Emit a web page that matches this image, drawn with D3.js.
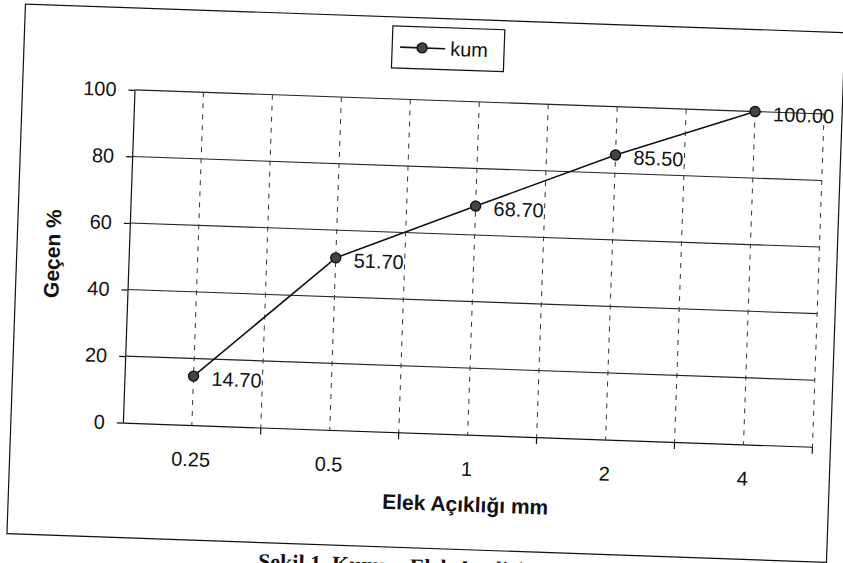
<!DOCTYPE html>
<html>
<head>
<meta charset="utf-8">
<script src="https://cdnjs.cloudflare.com/ajax/libs/d3/7.8.5/d3.min.js"></script>
<style>
  body { margin: 0; background: #fff; }
  svg { display: block; }
  text { font-family: "Liberation Sans", Arial, sans-serif; fill: #111; }
</style>
</head>
<body>
<svg></svg>
<script>
const categories = ["0.25", "0.5", "1", "2", "4"];
const values = [14.70, 51.70, 68.70, 85.50, 100.00];
const yTicks = [0, 20, 40, 60, 80, 100];
const seriesName = "kum";

let svgWidth = 843;
let svgHeight = 563;
let svg = d3.select("svg")
    .attr("width", svgWidth)
    .attr("height", svgHeight)

svg.append("rect")
    .attr("width", svgWidth)
    .attr("height", svgHeight)
    .attr("fill", "#fff")

// the scanned page is tilted by about 2 degrees
let page = svg.append("g")
    .attr("transform", "rotate(2, 421.5, 281.5)")

// outer chart frame
page.append("rect")
    .attr("x", 16)
    .attr("y", 18)
    .attr("width", 820)
    .attr("height", 530)
    .attr("fill", "none")
    .attr("stroke", "#111")
    .attr("stroke-width", 1.2)

let plot = {left: 128, right: 818, top: 100, bottom: 433}

let xScale = d3.scaleBand()
    .domain(categories)
    .range([plot.left, plot.right])
    .padding(0)

let yScale = d3.scaleLinear()
    .domain([0, 100])
    .range([plot.bottom, plot.top])

let bw = xScale.bandwidth()

// horizontal gridlines
page.append("g")
    .selectAll("line")
    .data(yTicks.filter(d => d > 0))
    .enter()
    .append("line")
    .attr("x1", plot.left)
    .attr("x2", plot.right)
    .attr("y1", d => yScale(d))
    .attr("y2", d => yScale(d))
    .attr("stroke", "#222")
    .attr("stroke-width", 1.1)

// dashed vertical gridlines at every half category
let halfSteps = []
categories.forEach(c => {
    halfSteps.push(xScale(c) + bw / 2)
    if (c !== categories[0]) halfSteps.push(xScale(c))
})
halfSteps.push(xScale.range()[1])

page.append("g")
    .selectAll("line")
    .data(halfSteps)
    .enter()
    .append("line")
    .attr("x1", d => d)
    .attr("x2", d => d)
    .attr("y1", plot.top)
    .attr("y2", plot.bottom)
    .attr("stroke", "#333")
    .attr("stroke-width", 1)
    .attr("stroke-dasharray", "5,6")

// y axis
let yAxis = d3.axisLeft(yScale)
    .tickValues(yTicks)
    .tickSize(6)
    .tickSizeOuter(0)
    .tickPadding(12)

let yAxisGroup = page.append("g")
    .attr("transform", `translate(${plot.left}, 0)`)
    .call(yAxis)
yAxisGroup.selectAll("path, line").attr("stroke", "#111").attr("stroke-width", 1.2)
yAxisGroup.selectAll("text").style("font-size", "20px").attr("fill", "#111")

// x axis
let xAxis = d3.axisBottom(xScale)
    .tickSize(0)
    .tickSizeOuter(0)
    .tickPadding(27)

let xAxisGroup = page.append("g")
    .attr("transform", `translate(0, ${plot.bottom})`)
    .call(xAxis)
xAxisGroup.select("path").attr("stroke", "#111").attr("stroke-width", 1.2)
xAxisGroup.selectAll("text").style("font-size", "20px").attr("fill", "#111")

// category boundary tick marks
let boundaries = categories.slice(1).map(c => xScale(c)).concat([xScale.range()[1]])
page.append("g")
    .selectAll("line")
    .data(boundaries)
    .enter()
    .append("line")
    .attr("x1", d => d)
    .attr("x2", d => d)
    .attr("y1", plot.bottom)
    .attr("y2", plot.bottom + 7)
    .attr("stroke", "#111")
    .attr("stroke-width", 1.2)

// series line
let line = d3.line()
    .x((d, i) => xScale(categories[i]) + bw / 2)
    .y(d => yScale(d))

page.append("path")
    .datum(values)
    .attr("d", line)
    .attr("fill", "none")
    .attr("stroke", "#111")
    .attr("stroke-width", 1.6)

page.append("g")
    .selectAll("circle")
    .data(values)
    .enter()
    .append("circle")
    .attr("cx", (d, i) => xScale(categories[i]) + bw / 2)
    .attr("cy", d => yScale(d))
    .attr("r", 5)
    .attr("fill", "#444")
    .attr("stroke", "#111")
    .attr("stroke-width", 1.4)

// data labels
page.append("g")
    .selectAll("text")
    .data(values)
    .enter()
    .append("text")
    .attr("x", (d, i) => xScale(categories[i]) + bw / 2 + 18)
    .attr("y", d => yScale(d) + 9)
    .style("font-size", "20px")
    .text(d => d.toFixed(2))

// axis titles
page.append("text")
    .attr("x", (plot.left + plot.right) / 2)
    .attr("y", 510)
    .attr("text-anchor", "middle")
    .style("font-size", "21px")
    .style("font-weight", "bold")
    .text("Elek Açıklığı mm")

page.append("text")
    .attr("transform", `translate(59, ${(plot.top + plot.bottom) / 2}) rotate(-90)`)
    .attr("text-anchor", "middle")
    .style("font-size", "21px")
    .style("font-weight", "bold")
    .text("Geçen %")

// legend
let legend = page.append("g")
    .attr("transform", "translate(384, 27)")
legend.append("rect")
    .attr("width", 112)
    .attr("height", 42)
    .attr("fill", "#fff")
    .attr("stroke", "#111")
    .attr("stroke-width", 1.2)
legend.append("line")
    .attr("x1", 8)
    .attr("x2", 53)
    .attr("y1", 21)
    .attr("y2", 21)
    .attr("stroke", "#111")
    .attr("stroke-width", 1.6)
legend.append("circle")
    .attr("cx", 30)
    .attr("cy", 21)
    .attr("r", 5)
    .attr("fill", "#444")
    .attr("stroke", "#111")
    .attr("stroke-width", 1.4)
legend.append("text")
    .attr("x", 58)
    .attr("y", 28)
    .style("font-size", "20px")
    .text(seriesName)

// figure caption, cut off by the bottom of the scan
page.append("text")
    .attr("x", 268)
    .attr("y", 574)
    .style("font-family", "'Liberation Serif', 'DejaVu Serif', serif")
    .style("font-size", "22px")
    .style("font-weight", "bold")
    .text("Şekil 1. Kumun Elek Analizi")
</script>
</body>
</html>
